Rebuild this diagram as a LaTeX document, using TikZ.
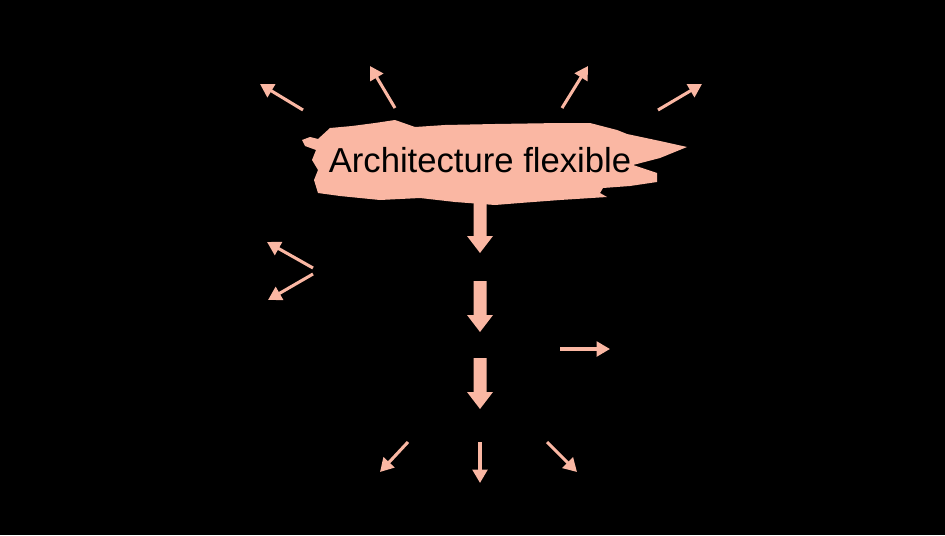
\documentclass[tikz,border=0pt]{standalone}
\usepackage{fontspec}
\setmainfont{Liberation Sans}
\usetikzlibrary{arrows.meta}
\definecolor{salmon}{RGB}{250,183,163}
\tikzset{
  thinarrow/.style={draw=salmon, line width=2.3pt, -{Triangle[length=10pt,width=11pt]}},
  pics/fatdown/.style={code={
    \fill[salmon] (-6.5,0) -- (6.5,0) -- (6.5,#1) -- (13,#1) -- (0,#1+17) -- (-13,#1) -- (-6.5,#1) -- cycle;
  }}
}
\begin{document}
\begin{tikzpicture}[x=0.75pt,y=-0.75pt]
\useasboundingbox (0,0) rectangle (945,535);
\fill[black] (0,0) rectangle (945,535);
% brush stroke
\fill[salmon] (302,140) -- (310,137) -- (318,139) -- (330,128) -- (352,126) -- (375,123) -- (395,120)
  -- (415,127) -- (445,125) -- (495,124) -- (560,123) -- (590,123) -- (617,130) -- (627,134)
  -- (660,141) -- (687,147) -- (660,158) -- (633,165) -- (657,173) -- (657,182) -- (630,186)
  -- (603,188) -- (600,193) -- (607,197) -- (560,200) -- (520,203) -- (495,205) -- (455,202) -- (420,198)
  -- (380,200) -- (340,196) -- (318,193) -- (314,180) -- (318,170) -- (312,160) -- (316,150)
  -- (305,146) -- cycle;
\node[anchor=base, font=\fontsize{26pt}{30pt}\selectfont, text=black, inner sep=0pt] (title) at (480,172) {Architecture flexible};
% thick down arrows
\pic at (480,203) {fatdown=33};
\pic at (480,281) {fatdown=34};
\pic at (480,358) {fatdown=34};
% thin arrows: coordinates
\coordinate (a1s) at (303,110); \coordinate (a1e) at (260,84);
\coordinate (a2s) at (395,108); \coordinate (a2e) at (370,66);
\coordinate (a3s) at (562,108); \coordinate (a3e) at (588,66);
\coordinate (a4s) at (658,110); \coordinate (a4e) at (702,84);
\coordinate (l1s) at (313,268); \coordinate (l1e) at (267,242);
\coordinate (l2s) at (313,274); \coordinate (l2e) at (268,300);
\coordinate (r1s) at (560,349); \coordinate (r1e) at (610,349);
\coordinate (b1s) at (408,442); \coordinate (b1e) at (380,472);
\coordinate (b2s) at (480,442); \coordinate (b2e) at (480,483);
\coordinate (b3s) at (547,442); \coordinate (b3e) at (577,472);
\foreach \p in {a1,a2,a3,a4,l1,l2,r1,b1,b2,b3}
  \draw[thinarrow] (\p s) -- (\p e);
\end{tikzpicture}
\end{document}
